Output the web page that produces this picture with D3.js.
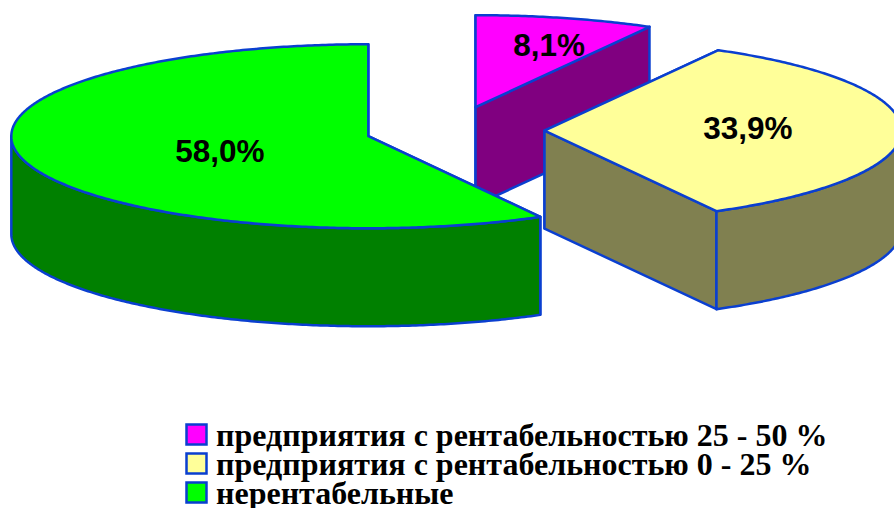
<!DOCTYPE html>
<html>
<head>
<meta charset="utf-8">
<script src="https://cdn.jsdelivr.net/npm/d3@7"></script>
<style>
  html, body { margin: 0; padding: 0; background: #fff; }
  svg { display: block; }
</style>
</head>
<body>
<svg id="chart" width="894" height="508"></svg>
<script>
'use strict';

const categories = [
  'предприятия с рентабельностью 25 - 50 %',
  'предприятия с рентабельностью 0 - 25 %',
  'нерентабельные'
];
const values = [8.1, 33.9, 58.0];
const valueLabels = ['8,1%', '33,9%', '58,0%'];
const topColors = ['#ff00ff', '#ffff99', '#00ff00'];
const wallColors = ['#800080', '#808050', '#008000'];
const labelOffsets = [[16, -8], [-18, -3], [66, 1]];
const sliceNudges = [[-2, -1], [0, 0], [0, 0]];

const WIDTH = 894;
const HEIGHT = 508;
const EDGE = '#0a3fd0';
const CX = 455;
const CY = 130.5;
const RX = 357;
const RY = 92;
const DEPTH = 98;
const EXPLODE = 89.5;
const LABEL_R = 0.62;

const svg = d3.select('#chart');

const slices = d3.pie().sort(null).value(d => d)(values);

// pie angle (clockwise from 12 o'clock) onto the flattened ellipse
function project(angle, r, drop) {
  return [r * RX * Math.sin(angle), -r * RY * Math.cos(angle) + (drop || 0)];
}

function sampleArc(a0, a1, drop) {
  const n = Math.max(2, Math.ceil(Math.abs(a1 - a0) / 0.01));
  return d3.range(n + 1).map(i => project(a0 + (a1 - a0) * i / n, 1, drop));
}

const line = d3.line().curve(d3.curveLinearClosed);

slices.forEach(function(s, i) {
  const mid = (s.startAngle + s.endAngle) / 2;
  const ox = CX + EXPLODE * Math.sin(mid) + sliceNudges[i][0];
  const oy = CY - EXPLODE * (RY / RX) * Math.cos(mid) + sliceNudges[i][1];
  const g = svg.append('g').attr('transform', 'translate(' + ox + ',' + oy + ')');

  const style = function(sel, fill) {
    sel.attr('fill', fill)
      .attr('stroke', EDGE)
      .attr('stroke-width', 2.5)
      .attr('stroke-linejoin', 'round');
  };

  // radial faces first, then the outer wall, top goes over everything
  [s.startAngle, s.endAngle].forEach(function(a) {
    const p = project(a, 1, 0);
    g.append('path')
      .attr('d', line([[0, 0], p, [p[0], p[1] + DEPTH], [0, DEPTH]]))
      .call(style, wallColors[i]);
  });

  const frontFrom = Math.max(s.startAngle, Math.PI / 2);
  const frontTo = Math.min(s.endAngle, Math.PI * 1.5);
  if (frontFrom < frontTo) {
    const upper = sampleArc(frontFrom, frontTo, 0);
    const lower = sampleArc(frontTo, frontFrom, DEPTH);
    g.append('path')
      .attr('d', line(upper.concat(lower)))
      .call(style, wallColors[i]);
  }

  const rim = sampleArc(s.startAngle, s.endAngle, 0);
  g.append('path')
    .attr('d', line([[0, 0]].concat(rim)))
    .call(style, topColors[i]);
});

// value labels sit on top of all the slices
slices.forEach(function(s, i) {
  const mid = (s.startAngle + s.endAngle) / 2;
  const ox = CX + EXPLODE * Math.sin(mid);
  const oy = CY - EXPLODE * (RY / RX) * Math.cos(mid);
  const p = project(mid, LABEL_R, 0);
  svg.append('text')
    .attr('x', ox + p[0] + labelOffsets[i][0])
    .attr('y', oy + p[1] + labelOffsets[i][1])
    .attr('text-anchor', 'middle')
    .attr('dominant-baseline', 'central')
    .attr('font-family', '"Liberation Sans", Arial, sans-serif')
    .attr('font-weight', 'bold')
    .attr('font-size', 31.5)
    .attr('fill', '#000')
    .text(valueLabels[i]);
});

const legendY = d3.scalePoint().domain(categories).range([434.5, 492.5]);

const legend = svg.selectAll('g.legend')
  .data(categories)
  .enter()
  .append('g')
  .attr('class', 'legend')
  .attr('transform', d => 'translate(0,' + legendY(d) + ')');

legend.append('rect')
  .attr('x', 186.5)
  .attr('y', -10)
  .attr('width', 20)
  .attr('height', 20)
  .attr('fill', (d, i) => topColors[i])
  .attr('stroke', EDGE)
  .attr('stroke-width', 2.5);

legend.append('text')
  .attr('x', 216)
  .attr('y', 11)
  .attr('font-family', '"Liberation Serif", "Times New Roman", serif')
  .attr('font-weight', 'bold')
  .attr('font-size', 32)
  .attr('fill', '#000')
  .text(d => d);
</script>
</body>
</html>
